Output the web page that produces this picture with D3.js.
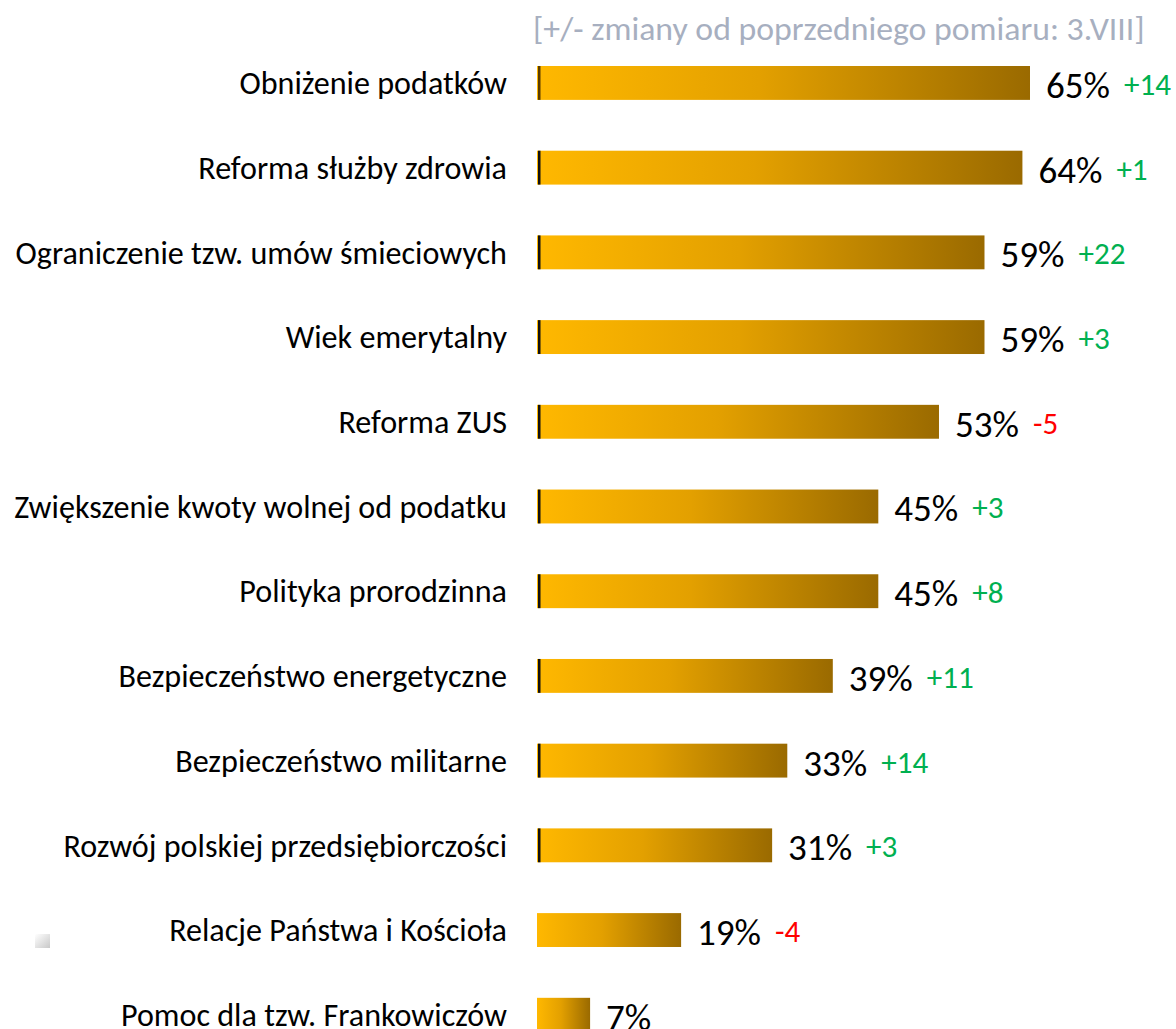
<!DOCTYPE html>
<html><head><meta charset="utf-8">
<script src="https://cdn.jsdelivr.net/npm/d3@7"></script>
<style>
html,body{margin:0;padding:0;background:#fff;}
svg{display:block;}
text{font-family:Carlito,"Open Sans",sans-serif;}
</style></head>
<body>
<svg id="c" width="1176" height="1029"></svg>
<script>
const categories = [
  "Obniżenie podatków",
  "Reforma służby zdrowia",
  "Ograniczenie tzw. umów śmieciowych",
  "Wiek emerytalny",
  "Reforma ZUS",
  "Zwiększenie kwoty wolnej od podatku",
  "Polityka prorodzinna",
  "Bezpieczeństwo energetyczne",
  "Bezpieczeństwo militarne",
  "Rozwój polskiej przedsiębiorczości",
  "Relacje Państwa i Kościoła",
  "Pomoc dla tzw. Frankowiczów"
];
const values = [65, 64, 59, 59, 53, 45, 45, 39, 33, 31, 19, 7];
const changes = [14, 1, 22, 3, -5, 3, 8, 11, 14, 3, -4, null];
const headerText = "[+/- zmiany od poprzedniego pomiaru: 3.VIII]";

const svg = d3.select("#c");
const x = d3.scaleLinear().domain([0, 65]).range([537, 1030]);
const y = d3.scaleBand().domain(categories).range([66, 1031.7]).paddingInner(0.6).paddingOuter(0);

const defs = svg.append("defs");
const grad = defs.append("linearGradient").attr("id", "g").attr("x1", "0%").attr("x2", "100%").attr("y1", "0%").attr("y2", "0%");
grad.append("stop").attr("offset", "0%").attr("stop-color", "#FFB800");
grad.append("stop").attr("offset", "45%").attr("stop-color", "#E3A000");
grad.append("stop").attr("offset", "100%").attr("stop-color", "#9A6A00");
const sm = defs.append("linearGradient").attr("id", "sm").attr("x1", "0%").attr("x2", "100%").attr("y1", "0%").attr("y2", "100%");
sm.append("stop").attr("offset", "0%").attr("stop-color", "#ffffff");
sm.append("stop").attr("offset", "100%").attr("stop-color", "#c8c8c8");

function fit(sel, target, base) {
  let maxW = 0;
  sel.each(function(){ maxW = Math.max(maxW, this.getComputedTextLength()); });
  const fs = base * target / maxW;
  sel.style("font-size", fs + "px");
  return fs;
}

// header
const hdr = svg.append("text").attr("x", 533).attr("y", 28).attr("dy", "0.35em")
  .attr("fill", "#A7AFC0").style("font-size", "28px").text(headerText);
fit(hdr, 612, 28);

// faint smudge at left
svg.append("rect").attr("x", 35).attr("y", 934).attr("width", 15).attr("height", 14).attr("fill", "url(#sm)");

// bars
svg.append("g").selectAll("rect").data(categories).join("rect")
  .attr("x", x(0)).attr("y", d => y(d))
  .attr("width", (d, i) => x(values[i]) - x(0))
  .attr("height", y.bandwidth())
  .attr("fill", "url(#g)");

// small dark edge at bar starts
svg.append("g").selectAll("rect").data(categories.slice(0, 10)).join("rect")
  .attr("x", x(0) + 1).attr("y", d => y(d))
  .attr("width", 2.5).attr("height", y.bandwidth())
  .attr("fill", (d, i) => i === 0 ? "#5a3c00" : "#111");

// category labels
const labels = svg.append("g").selectAll("text").data(categories).join("text")
  .attr("x", 507).attr("y", d => y(d) + y.bandwidth() / 2).attr("dy", "0.35em")
  .attr("text-anchor", "end").attr("fill", "#000").style("font-size", "26px")
  .text(d => d);
fit(labels, 493, 26);

// value labels
const vl = svg.append("g").selectAll("text").data(categories).join("text")
  .attr("x", (d, i) => x(values[i]) + 16).attr("y", d => y(d) + y.bandwidth() / 2 + 2).attr("dy", "0.35em")
  .attr("fill", "#000").style("font-size", "30px")
  .text((d, i) => values[i] + "%");
fit(vl.filter((d, i) => i === 0), 64, 30);
const vfs = parseFloat(vl.filter((d, i) => i === 0).style("font-size"));
vl.style("font-size", vfs + "px");

// change labels
const widths = [];
vl.each(function(){ widths.push(this.getComputedTextLength()); });
const cl = svg.append("g").selectAll("text").data(categories).join("text")
  .filter((d, i) => changes[i] !== null)
  .attr("x", d => { const i = categories.indexOf(d); return x(values[i]) + 16 + widths[i] + 14; })
  .attr("y", d => y(d) + y.bandwidth() / 2 + 1).attr("dy", "0.35em")
  .attr("fill", d => changes[categories.indexOf(d)] >= 0 ? "#00B050" : "#FF0000")
  .style("font-size", "28px")
  .text(d => { const c = changes[categories.indexOf(d)]; return (c >= 0 ? "+" : "") + c; });
fit(cl.filter(d => d === categories[2]), 47, 28);
const cfs = parseFloat(cl.filter(d => d === categories[2]).style("font-size"));
cl.style("font-size", cfs + "px");
</script>
</body></html>
